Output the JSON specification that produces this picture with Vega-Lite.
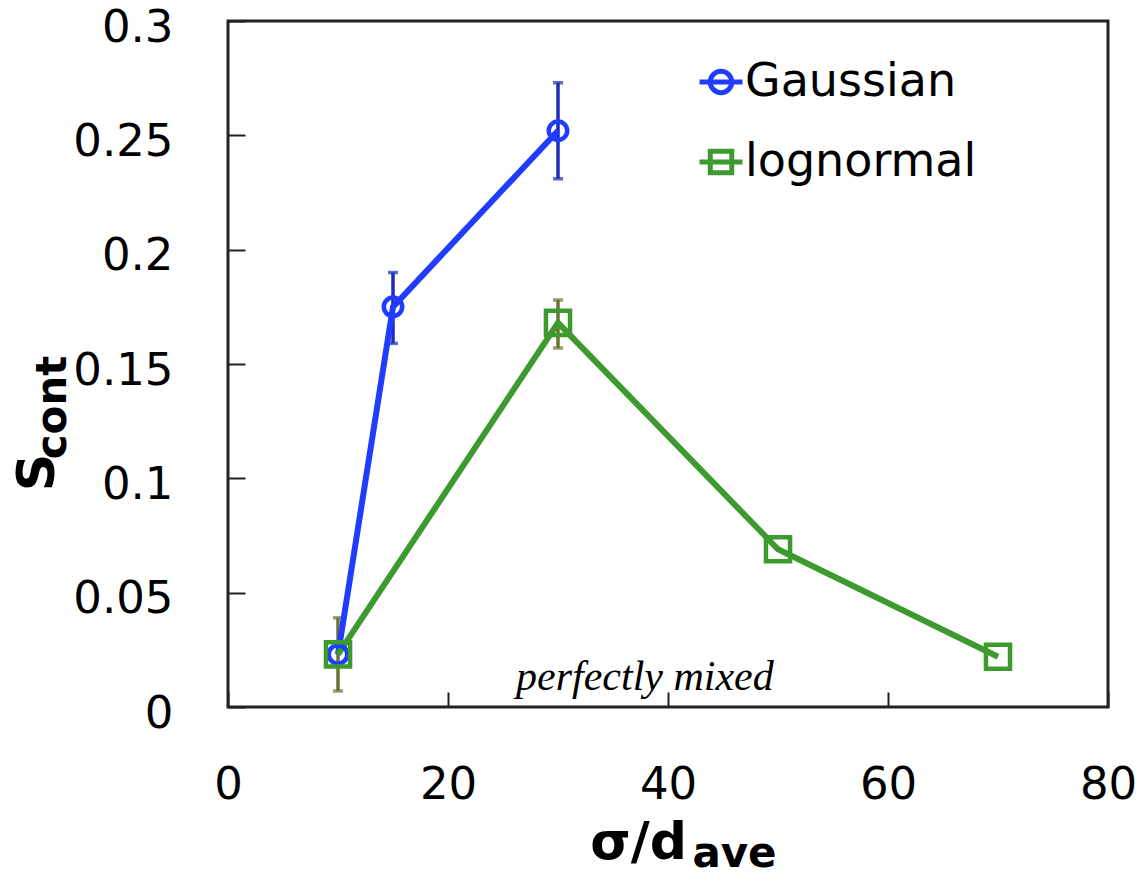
{
  "$schema": "https://vega.github.io/schema/vega-lite/v6.json",
  "width": 880,
  "height": 686,
  "autosize": {"type": "none"},
  "padding": {"left": 228, "top": 21, "right": 32, "bottom": 170},
  "background": "white",
  "config": {
    "view": {"stroke": "#222222", "strokeWidth": 3},
    "axis": {
      "grid": false,
      "domain": false,
      "tickColor": "#222222",
      "tickWidth": 2,
      "labelFont": "DejaVu Sans",
      "labelFontSize": 45,
      "labelColor": "#000000",
      "labelFlush": false,
      "labelOverlap": false,
      "titleFont": "DejaVu Sans",
      "titleFontWeight": "bold",
      "titleColor": "#000000"
    },
    "legend": {
      "labelFont": "DejaVu Sans",
      "labelFontSize": 46,
      "labelColor": "#000000",
      "labelLimit": 0
    }
  },
  "datasets": {
    "scont": [
      {"series": "Gaussian", "x": 10, "y": 0.023},
      {"series": "Gaussian", "x": 15, "y": 0.175, "lo": 0.159, "hi": 0.19},
      {"series": "Gaussian", "x": 30, "y": 0.252, "lo": 0.231, "hi": 0.273},
      {"series": "lognormal", "x": 10, "y": 0.023, "lo": 0.007, "hi": 0.039},
      {"series": "lognormal", "x": 30, "y": 0.168, "lo": 0.157, "hi": 0.178},
      {"series": "lognormal", "x": 50, "y": 0.069},
      {"series": "lognormal", "x": 70, "y": 0.022}
    ],
    "notes": [
      {"label": "perfectly mixed", "x": 37.9, "y": 0.0074}
    ]
  },
  "resolve": {
    "scale": {"color": "independent", "shape": "independent"},
    "axis": {"x": "independent", "y": "independent"}
  },
  "layer": [
    {
      "data": {"name": "scont"},
      "transform": [{"filter": "isValid(datum.lo)"}],
      "mark": {
        "type": "errorbar",
        "ticks": {"size": 10, "thickness": 3.5},
        "rule": {"strokeWidth": 3.5}
      },
      "encoding": {
        "x": {
          "field": "x", "type": "quantitative",
          "scale": {"domain": [0, 80], "nice": false},
          "axis": {
            "values": [0, 20, 40, 60, 80], "format": "d",
            "tickSize": -15, "labelPadding": 70,
            "title": "σ/d", "titleFontSize": 52,
            "titleX": 410, "titleY": 151,
            "titleAlign": "center", "titleBaseline": "alphabetic"
          }
        },
        "y": {
          "field": "lo", "type": "quantitative",
          "scale": {"domain": [0, 0.3], "nice": false, "zero": true},
          "axis": {
            "values": [0, 0.05, 0.1, 0.15, 0.2, 0.25, 0.3], "format": "~g",
            "tickSize": -17, "labelPadding": 72, "labelOffset": 6,
            "title": "S", "titleFontSize": 52, "titleAngle": 270,
            "titleX": -175, "titleY": 451,
            "titleAlign": "center", "titleBaseline": "alphabetic"
          }
        },
        "y2": {"field": "hi"},
        "color": {
          "field": "series", "type": "nominal",
          "scale": {"domain": ["Gaussian", "lognormal"], "range": ["#1b2db8", "#6b7238"]},
          "legend": null
        }
      }
    },
    {
      "data": {"name": "scont"},
      "mark": {"type": "line", "strokeWidth": 6},
      "encoding": {
        "x": {"field": "x", "type": "quantitative", "axis": null},
        "y": {"field": "y", "type": "quantitative", "axis": null},
        "color": {
          "field": "series", "type": "nominal",
          "scale": {"domain": ["Gaussian", "lognormal"], "range": ["#1f3cff", "#3d9a2e"]},
          "legend": null
        }
      }
    },
    {
      "data": {"name": "scont"},
      "mark": {"type": "point", "filled": false, "strokeWidth": 4.5, "opacity": 1},
      "encoding": {
        "x": {"field": "x", "type": "quantitative", "axis": null},
        "y": {"field": "y", "type": "quantitative", "axis": null},
        "color": {
          "field": "series", "type": "nominal",
          "scale": {"domain": ["Gaussian", "lognormal"], "range": ["#1f3cff", "#3d9a2e"]},
          "legend": null
        },
        "shape": {
          "field": "series", "type": "nominal",
          "scale": {"domain": ["Gaussian", "lognormal"], "range": ["circle", "square"]},
          "legend": null
        },
        "size": {
          "field": "series", "type": "nominal",
          "scale": {"domain": ["Gaussian", "lognormal"], "range": [340, 580]},
          "legend": null
        }
      }
    },
    {
      "data": {"name": "scont"},
      "transform": [{"filter": "datum.x < 0"}],
      "mark": {"type": "point", "filled": false, "strokeWidth": 5, "opacity": 1},
      "encoding": {
        "x": {
          "field": "x", "type": "quantitative",
          "axis": {
            "orient": "top", "labels": false, "ticks": false, "domain": false,
            "title": "ave", "titleFontSize": 42,
            "titleX": 506, "titleY": 845,
            "titleAlign": "center", "titleBaseline": "alphabetic"
          }
        },
        "y": {
          "field": "y", "type": "quantitative",
          "axis": {
            "orient": "right", "labels": false, "ticks": false, "domain": false,
            "title": "cont", "titleFontSize": 42, "titleAngle": 270,
            "titleX": -1043, "titleY": 386,
            "titleAlign": "center", "titleBaseline": "alphabetic"
          }
        },
        "color": {
          "field": "series", "type": "nominal",
          "scale": {"domain": ["Gaussian", "lognormal"], "range": ["#1f3cff", "#3d9a2e"]},
          "legend": {
            "title": null, "orient": "none", "legendX": 469, "legendY": 37,
            "symbolSize": 1849, "symbolStrokeWidth": 5, "labelOffset": 0,
            "rowPadding": 33
          }
        },
        "shape": {
          "field": "series", "type": "nominal",
          "scale": {
            "domain": ["Gaussian", "lognormal"],
            "range": [
              "M-1,0H1M-0.5,0A0.5,0.5 0 1,0 0.5,0A0.5,0.5 0 1,0 -0.5,0",
              "M-1,0H1M-0.5,-0.5H0.5V0.5H-0.5Z"
            ]
          },
          "legend": {
            "title": null, "orient": "none", "legendX": 469, "legendY": 37,
            "symbolSize": 1849, "symbolStrokeWidth": 5, "labelOffset": 0,
            "rowPadding": 33
          }
        }
      }
    },
    {
      "data": {"name": "notes"},
      "mark": {
        "type": "text", "font": "Liberation Serif", "fontStyle": "italic",
        "fontSize": 42, "align": "center", "baseline": "alphabetic", "color": "#000000"
      },
      "encoding": {
        "x": {"field": "x", "type": "quantitative", "axis": null},
        "y": {"field": "y", "type": "quantitative", "axis": null},
        "text": {"field": "label"}
      }
    }
  ]
}
